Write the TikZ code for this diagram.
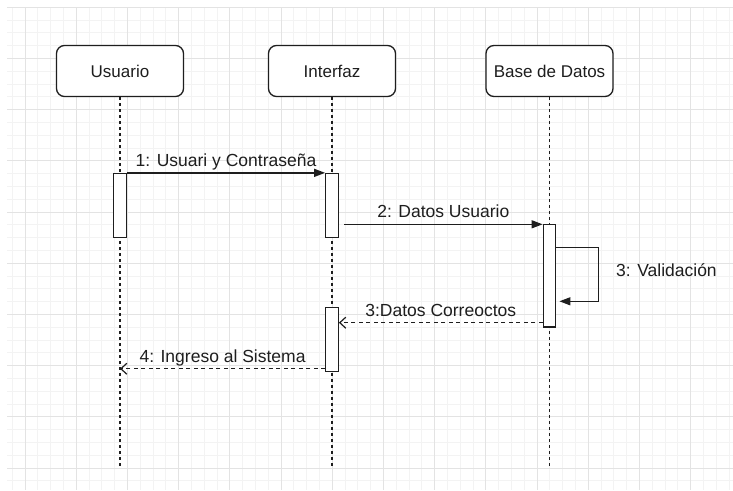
\documentclass[tikz,border=0pt]{standalone}
\usepackage{fontspec}
\setmainfont{Liberation Sans}
\usepackage{tikz}
\usetikzlibrary{arrows.meta}

\definecolor{gridminor}{HTML}{F3F3F3}
\definecolor{gridmajor}{HTML}{E3E3E3}
\definecolor{ink}{HTML}{1E1E1E}

\tikzset{
  actor/.style={draw=ink, line width=1.3pt, rounded corners=8pt, fill=white,
    minimum width=127pt, minimum height=51pt, inner sep=0pt, text=ink,
    font=\fontsize{17}{20}\selectfont},
  act/.style={draw=ink, line width=1.3pt, fill=white, minimum width=12.5pt, inner sep=0pt},
  lifeline/.style={draw=ink, line width=1.2pt, dash pattern=on 3pt off 3pt},
  msg/.style={draw=ink, line width=1.3pt, -{Triangle[length=11pt,width=8pt]}},
  reply/.style={draw=ink, line width=1.2pt, dash pattern=on 4pt off 3.5pt,
    -{Straight Barb[length=6pt,width=11pt]}},
  msglabel/.style={anchor=base, yshift=6.5pt, inner sep=0pt, text=ink,
    font=\fontsize{17.5}{20}\selectfont}
}

\begin{document}
\begin{tikzpicture}[x=1pt, y=-1pt]
    \useasboundingbox (0,0) rectangle (733,490);
    \fill[white] (0,0) rectangle (733,490);

    % grid
    \foreach \i in {0,...,56}
        \draw[gridminor, line width=0.9pt] ({12.2+12.8*\i},7.3) -- ({12.2+12.8*\i},490);
    \foreach \j in {0,...,37}
        \draw[gridminor, line width=0.9pt] (7,{7.3+12.8*\j}) -- (733,{7.3+12.8*\j});
    \foreach \i in {0,...,13}
        \draw[gridmajor, line width=1pt] ({25+51.2*\i},7.3) -- ({25+51.2*\i},490);
    \foreach \j in {0,...,9}
        \draw[gridmajor, line width=1pt] (7,{7.3+51.2*\j}) -- (733,{7.3+51.2*\j});

    % participants and lifelines
    \node[actor] (usr) at (120,71) {Usuario};
    \node[actor] (ifz) at (332,71) {Interfaz};
    \node[actor] (bd) at (549.5,71) {Base de Datos};
    \coordinate (usrEnd) at (120,468);
    \coordinate (ifzEnd) at (332,468);
    \coordinate (bdEnd) at (549.5,468);
    \draw[lifeline] (usr.south) -- (usrEnd);
    \draw[lifeline] (ifz.south) -- (ifzEnd);
    \draw[lifeline] (bd.south) -- (bdEnd);

    % activation bars
    \node[act, minimum height=64pt] (actUsr) at (120,205.5) {};
    \node[act, minimum height=64pt] (actIfz) at (332,205.5) {};
    \node[act, minimum height=102.5pt] (actBd) at (549.5,275.8) {};
    \node[act, minimum height=64pt] (actIfzB) at (332,339.5) {};

    % messages
    \draw[msg] (actUsr.north east) -- (actIfz.north west)
        node[msglabel, midway] (m1) {1: Usuari y Contraseña};
    \coordinate (m2Start) at (344,224.3);
    \draw[msg] (m2Start) -- (m2Start -| actBd.west)
        node[msglabel, midway] (m2) {2: Datos Usuario};
    \draw[msg] ([yshift=-23.4pt]actBd.north east) -- ++(42.3,0) -- ++(0,54)
        -- ([yshift=-77.4pt, xshift=3pt]actBd.north east);
    \node[anchor=base west, inner sep=0pt, text=ink, font=\fontsize{17.5}{20}\selectfont]
        (val) at (616,276) {3: Validación};
    \coordinate (r3) at ([yshift=5pt]actBd.south west);
    \draw[reply] (r3) -- (r3 -| actIfzB.east)
        node[msglabel, midway] (m3) {3:Datos Correoctos};
    \coordinate (r4) at ([yshift=3.4pt]actIfzB.south west);
    \draw[reply] (r4) -- (r4 -| usrEnd)
        node[msglabel, midway] (m4) {4: Ingreso al Sistema};
\end{tikzpicture}
\end{document}
